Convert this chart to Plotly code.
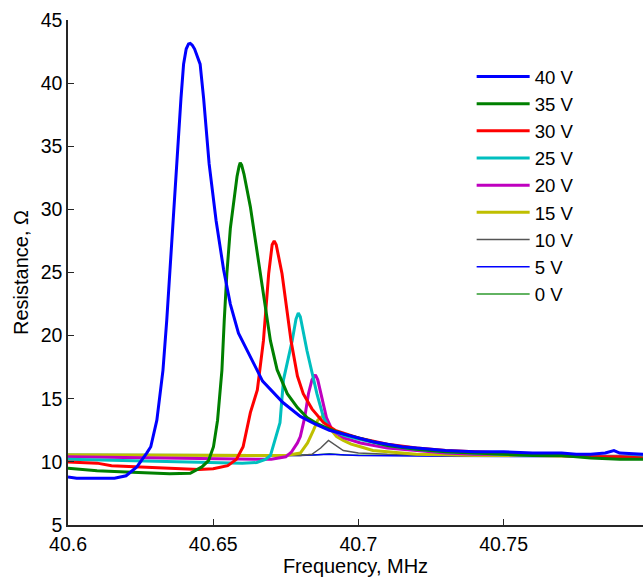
import plotly.graph_objects as go

# ---- data (frequency in MHz, resistance in Ohm) ----
f_40 = [40.600, 40.603, 40.610, 40.616, 40.6200, 40.6237, 40.6271, 40.6285, 40.6306, 40.6327, 40.6340,
        40.6361, 40.6375, 40.6389, 40.6398, 40.6407, 40.6415, 40.6421, 40.6428, 40.6436, 40.6455, 40.6467,
        40.6486, 40.6510, 40.6536, 40.6559, 40.6587, 40.6628, 40.667, 40.674, 40.680, 40.685, 40.690,
        40.695, 40.700, 40.705, 40.710, 40.715, 40.720, 40.730, 40.740, 40.750, 40.760, 40.770, 40.775,
        40.780, 40.785, 40.788, 40.790, 40.798]
r_40 = [8.8, 8.7, 8.7, 8.7, 8.9, 9.6, 10.7, 11.2, 13.3, 17.25, 21.2,
        29.1, 33.6, 38.8, 41.5, 42.7, 43.1, 43.15, 43.0, 42.7, 41.5, 38.8,
        33.6, 29.1, 25.2, 22.5, 20.2, 18.3, 16.4, 14.7, 13.6, 13.0, 12.5,
        12.2, 11.9, 11.6, 11.4, 11.2, 11.1, 10.9, 10.8, 10.8, 10.7, 10.7, 10.6,
        10.6, 10.7, 10.9, 10.7, 10.6]

f_35 = [40.600, 40.610, 40.620, 40.6272, 40.635, 40.6421, 40.6461, 40.6484, 40.6501, 40.6515, 40.6530,
        40.6538, 40.6547, 40.6559, 40.6570, 40.6582, 40.6589, 40.6593, 40.6598, 40.6606, 40.6628, 40.6662,
        40.6697, 40.672, 40.6755, 40.679, 40.6824, 40.686, 40.690, 40.695, 40.700, 40.705, 40.710, 40.720,
        40.730, 40.740, 40.750, 40.760, 40.770, 40.780, 40.790, 40.798]
r_35 = [9.5, 9.3, 9.2, 9.1, 9.05, 9.1, 9.6, 10.1, 11.2, 13.3, 17.25,
        21.2, 24.9, 28.5, 30.5, 32.6, 33.4, 33.7, 33.5, 32.8, 30.2, 24.9,
        19.6, 17.3, 15.4, 14.3, 13.5, 13.0, 12.6, 12.2, 11.9, 11.6, 11.3, 11.0,
        10.8, 10.7, 10.6, 10.5, 10.5, 10.3, 10.2, 10.2]

f_30 = [40.600, 40.610, 40.615, 40.625, 40.635, 40.645, 40.650, 40.655, 40.658, 40.6603, 40.6628, 40.6652,
        40.6673, 40.6691, 40.6703, 40.6710, 40.6717, 40.6737, 40.6768, 40.679, 40.681, 40.684, 40.688,
        40.692, 40.700, 40.710, 40.720, 40.730, 40.740, 40.750, 40.760, 40.770, 40.780, 40.790, 40.798]
r_30 = [10.0, 9.9, 9.7, 9.6, 9.5, 9.4, 9.45, 9.7, 10.2, 11.2, 13.9, 15.7,
        19.6, 24.9, 27.2, 27.5, 27.2, 24.9, 19.6, 16.8, 15.4, 14.2, 13.1,
        12.5, 11.9, 11.4, 11.1, 10.9, 10.8, 10.7, 10.6, 10.5, 10.4, 10.4, 10.3]

f_25 = [40.600, 40.620, 40.640, 40.650, 40.660, 40.665, 40.668, 40.6697, 40.671, 40.673, 40.6742, 40.6757,
        40.6772, 40.6785, 40.6793, 40.6800, 40.6823, 40.6857, 40.688, 40.690, 40.695, 40.700, 40.710,
        40.720, 40.730, 40.740, 40.750, 40.760, 40.770, 40.780, 40.790, 40.798]
r_25 = [10.2, 10.1, 10.0, 9.95, 9.9, 9.95, 10.2, 10.5, 11.5, 13.1, 16.5, 18.0,
        19.6, 21.3, 21.8, 21.5, 18.8, 15.4, 13.5, 12.6, 12.1, 11.8, 11.3,
        11.0, 10.8, 10.7, 10.6, 10.5, 10.5, 10.4, 10.4, 10.4]

f_20 = [40.600, 40.640, 40.660, 40.670, 40.675, 40.677, 40.679, 40.680, 40.6815, 40.6828, 40.684, 40.6852,
        40.686, 40.6876, 40.689, 40.691, 40.695, 40.7007, 40.710, 40.720, 40.730, 40.740, 40.750, 40.760,
        40.770, 40.780, 40.790, 40.798]
r_20 = [10.4, 10.3, 10.2, 10.2, 10.4, 10.8, 11.5, 12.0, 13.5, 15.4, 16.5, 16.9,
        16.5, 14.9, 13.5, 12.5, 11.9, 11.5, 11.1, 10.9, 10.7, 10.6, 10.6, 10.5,
        10.5, 10.4, 10.4, 10.4]

f_15 = [40.600, 40.650, 40.675, 40.680, 40.6825, 40.6845, 40.686, 40.688, 40.689, 40.690, 40.6925, 40.6948,
        40.6975, 40.7007, 40.705, 40.710, 40.720, 40.740, 40.760, 40.780, 40.798]
r_15 = [10.55, 10.55, 10.5, 10.7, 11.5, 12.5, 13.3, 13.7, 13.4, 12.7, 12.0, 11.7,
        11.4, 11.2, 10.9, 10.8, 10.6, 10.5, 10.5, 10.4, 10.4]

f_10 = [40.600, 40.680, 40.684, 40.687, 40.6897, 40.6915, 40.6948, 40.700, 40.710, 40.740, 40.770, 40.798]
r_10 = [10.55, 10.5, 10.6, 11.1, 11.7, 11.4, 10.9, 10.7, 10.6, 10.5, 10.5, 10.5]

f_5 = [40.600, 40.650, 40.680, 40.690, 40.700, 40.730, 40.760, 40.798]
r_5 = [10.55, 10.55, 10.5, 10.6, 10.5, 10.45, 10.45, 10.4]

f_0 = [40.600, 40.650, 40.685, 40.690, 40.695, 40.730, 40.760, 40.798]
r_0 = [10.6, 10.55, 10.55, 10.65, 10.55, 10.5, 10.45, 10.45]

labels = ["40 V", "35 V", "30 V", "25 V", "20 V", "15 V", "10 V", "5 V", "0 V"]
colors = ["#0000ff", "#008000", "#ff0000", "#00bfbf", "#bf00bf", "#bfbf00", "#555555", "#0000ff", "#2e9a2e"]
widths = [3, 3, 3, 3, 3, 3, 1.5, 1.5, 1.5]
xs = [f_40, f_35, f_30, f_25, f_20, f_15, f_10, f_5, f_0]
ys = [r_40, r_35, r_30, r_25, r_20, r_15, r_10, r_5, r_0]

x_ticks = [40.6, 40.65, 40.7, 40.75]
x_ticktext = ["40.6", "40.65", "40.7", "40.75"]
y_ticks = [5, 10, 15, 20, 25, 30, 35, 40, 45]

fig = go.Figure()
# draw lower voltages first so high-voltage curves sit on top
for i in reversed(range(len(labels))):
    fig.add_trace(go.Scatter(x=xs[i], y=ys[i], mode="lines", name=labels[i],
                             line=dict(color=colors[i], width=widths[i])))

font = "Liberation Sans, Arial, sans-serif"
fig.update_layout(
    width=643, height=579,
    margin=dict(l=68, r=0, t=20, b=54),
    paper_bgcolor="white", plot_bgcolor="white",
    font=dict(family=font, size=19.5, color="black"),
    legend=dict(x=0.702, y=0.925, xanchor="left", yanchor="top",
                traceorder="reversed", font=dict(size=18.6),
                itemwidth=53, bgcolor="rgba(0,0,0,0)", borderwidth=0),
    xaxis=dict(range=[40.6, 40.798], tickvals=x_ticks, ticktext=x_ticktext,
               showgrid=False, zeroline=False, showline=True, linecolor="#262626", linewidth=1.5,
               ticks="inside", ticklen=6, tickcolor="#262626", ticklabelstandoff=1,
               title=dict(text="Frequency, MHz", font=dict(size=20), standoff=4)),
    yaxis=dict(range=[5, 45], tickvals=y_ticks,
               showgrid=False, zeroline=False, showline=True, linecolor="#262626", linewidth=1.5,
               ticks="inside", ticklen=6, tickcolor="#262626",
               title=dict(text="Resistance, Ω", font=dict(size=20), standoff=7)),
)

fig.write_html("out.html", config={"displayModeBar": False},
               post_script="document.body.style.margin='0';document.body.style.overflow='hidden';")
